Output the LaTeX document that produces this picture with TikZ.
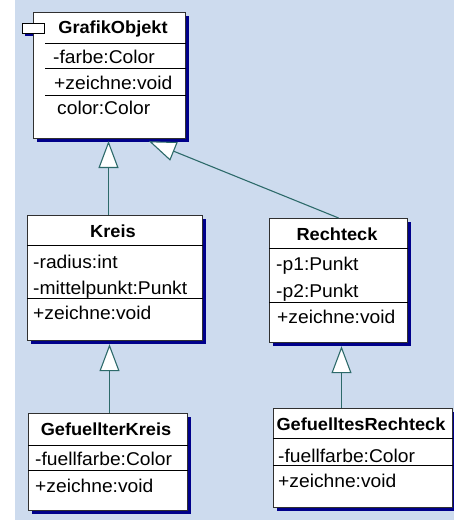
\documentclass[tikz,border=0pt]{standalone}
\usepackage{fontspec}
\setmainfont{Liberation Sans}[FakeStretch=1.04]
\usetikzlibrary{arrows.meta,shadows,calc}
\definecolor{bgblue}{HTML}{CDDBEE}
\definecolor{shadowblue}{HTML}{00008A}
\definecolor{linkteal}{HTML}{2D6A6A}
\definecolor{boxgray}{HTML}{303030}
\tikzset{
  cls/.style={draw=boxgray, fill=white, line width=1.2pt, inner sep=0pt, anchor=north west,
    drop shadow={shadow xshift=3pt, shadow yshift=-3pt, fill=shadowblue, opacity=1}},
  sep/.style={draw=black, line width=1pt},
  txt/.style={anchor=base west, inner sep=0pt, font=\fontsize{18.5}{20}\selectfont},
  cname/.style={anchor=base, inner sep=0pt, font=\fontsize{17.5}{20}\selectfont\bfseries},
  inh/.style={draw=linkteal, line width=1.1pt,
    -{Triangle[length=27pt, width=20pt, fill=white, line width=1.1pt]}},
}
\begin{document}
\begin{tikzpicture}[x=1pt,y=-1pt]
\useasboundingbox (0,0) rectangle (454,520);
\fill[bgblue] (15,0) rectangle (454,520);

% GrafikObjekt
\fill[shadowblue] (25,26) rectangle (47,36);
\node[cls, minimum width=152pt, minimum height=126pt] (grafik) at (33,12) {};
\draw[draw=black, fill=white, line width=1pt] (22,23) rectangle (44,33);
\draw[sep] (45,43) -- (grafik.east |- 0,43);
\draw[sep] (45,68) -- (grafik.east |- 0,68);
\draw[sep] (45,95) -- (grafik.east |- 0,95);
\node[cname] (gname) at (113,33) {GrafikObjekt};
\node[txt] (g1) at (53,63) {-farbe:Color};
\node[txt] (g2) at (54,89) {+zeichne:void};
\node[txt] (g3) at (57,114) {color:Color};

% Kreis
\node[cls, minimum width=175pt, minimum height=125pt] (kreis) at (27,215) {};
\draw[sep] (kreis.west |- 0,245) -- (kreis.east |- 0,245);
\draw[sep] (kreis.west |- 0,298) -- (kreis.east |- 0,298);
\node[cname] (kname) at (113,237) {Kreis};
\node[txt] (k1) at (33,268) {-radius:int};
\node[txt] (k2) at (33,294) {-mittelpunkt:Punkt};
\node[txt] (k3) at (33,319) {+zeichne:void};

% Rechteck
\node[cls, minimum width=138pt, minimum height=124pt] (rechteck) at (269,218) {};
\draw[sep] (rechteck.west |- 0,248) -- (rechteck.east |- 0,248);
\draw[sep] (rechteck.west |- 0,302) -- (rechteck.east |- 0,302);
\node[cname] (rname) at (337,240) {Rechteck};
\node[txt] (r1) at (276,270) {-p1:Punkt};
\node[txt] (r2) at (276,297) {-p2:Punkt};
\node[txt] (r3) at (277,323) {+zeichne:void};

% GefuellterKreis
\node[cls, minimum width=159pt, minimum height=97pt] (gkreis) at (28,413) {};
\draw[sep] (gkreis.west |- 0,445) -- (gkreis.east |- 0,445);
\draw[sep] (gkreis.west |- 0,470) -- (gkreis.east |- 0,470);
\node[cname] (gkname) at (106,435) {GefuellterKreis};
\node[txt] (gk1) at (35,465) {-fuellfarbe:Color};
\node[txt] (gk2) at (35,492) {+zeichne:void};

% GefuelltesRechteck
\node[cls, minimum width=179pt, minimum height=99pt] (grecht) at (273,408) {};
\draw[sep] (grecht.west |- 0,438) -- (grecht.east |- 0,438);
\draw[sep] (grecht.west |- 0,465) -- (grecht.east |- 0,465);
\node[cname] (grname) at (361,430) {GefuelltesRechteck};
\node[txt] (gr1) at (278,462) {-fuellfarbe:Color};
\node[txt] (gr2) at (278,487) {+zeichne:void};

% inheritance connectors
\coordinate (gtop) at ($(grafik.south west)!0.757!(grafik.south east)+(0,2)$);
\coordinate (kup) at (108.5,138);
\coordinate (gkup) at (109.5,413);
\coordinate (grup) at (341.5,408);
\draw[inh] (kup |- kreis.north) -- ($(kup)+(0,3)$);
\draw[inh] (rechteck.north) -- (gtop);
\draw[inh] (gkup) -- ($(gkup |- kreis.south)+(0,3)$);
\draw[inh] (grup) -- ($(grup |- rechteck.south)+(0,3)$);
\end{tikzpicture}
\end{document}
